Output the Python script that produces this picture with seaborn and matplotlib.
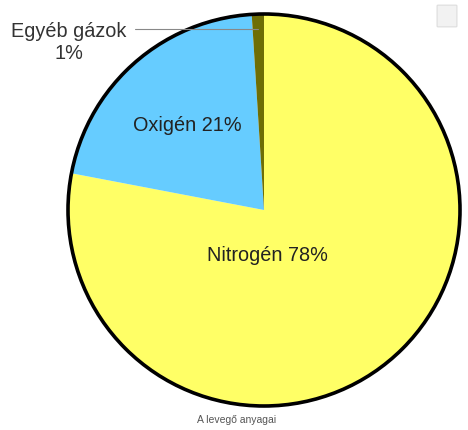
import matplotlib
matplotlib.use("Agg")
import matplotlib.pyplot as plt
import matplotlib.patches as mpatches
import seaborn as sns

# ---------------- Datos ----------------
labels = ["Nitrogén", "Oxigén", "Egyéb gázok"]
values = [78, 21, 1]
colors = ["#ffff66", "#66ccff", "#6e6e05"]
title = "A levegő anyagai"

sns.set_theme(style="white")
plt.rcParams['font.family'] = ['Liberation Sans', 'DejaVu Sans']

fig = plt.figure(figsize=(4.68, 4.30), dpi=100)
ax = fig.add_axes([68 / 468, 24 / 430, 392 / 468, 392 / 430])

wedges, _ = ax.pie(values, colors=colors, startangle=90, counterclock=False,
                   radius=1, wedgeprops=dict(linewidth=0))
ax.add_patch(mpatches.Circle((0, 0), 1, fill=False, edgecolor="black",
                             linewidth=2.6, clip_on=False))
ax.set_xlim(-1, 1)
ax.set_ylim(-1, 1)
ax.set_aspect('equal')
ax.axis('off')

# ---------------- Etiquetas ----------------
fs = 14.3
ax.text(0.02, -0.23, f"{labels[0]} {values[0]}%", ha='center', va='center',
        fontsize=fs, color="#222222")
ax.text(-0.39, 0.43, f"{labels[1]} {values[1]}%", ha='center', va='center',
        fontsize=fs, color="#222222")
ax.text(-0.995, 0.913, labels[2], ha='center', va='center',
        fontsize=fs, color="#333333", clip_on=False)
ax.text(-0.995, 0.796, f"{values[2]}%", ha='center', va='center',
        fontsize=fs, color="#333333", clip_on=False)
ax.plot([-0.658, -0.03], [0.923, 0.923], color="#888888", linewidth=0.8,
        clip_on=False, zorder=3)

fig.text(237 / 468, 1 - 420 / 430, title, ha='center', va='center',
         fontsize=7.5, color="#555555")

# icono decorativo arriba a la derecha
fig.patches.append(mpatches.FancyBboxPatch((438 / 468, 1 - 26 / 430), 18 / 468, 20 / 430,
                                           boxstyle="round,pad=0.002", transform=fig.transFigure,
                                           facecolor="#f2f2f2", edgecolor="#dddddd", linewidth=0.8))

fig.savefig("out.png", dpi=100, facecolor="white")
